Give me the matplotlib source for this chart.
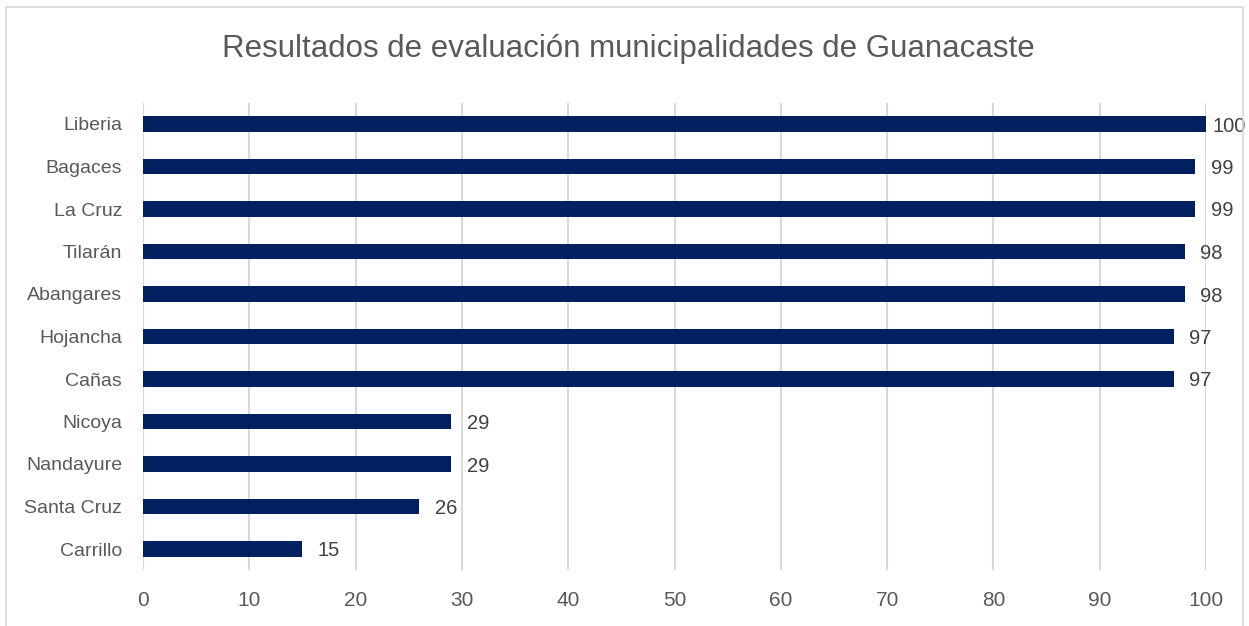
import matplotlib
matplotlib.use("Agg")
import matplotlib.pyplot as plt
from matplotlib import font_manager
from matplotlib.patches import Rectangle

names = ["Liberia", "Bagaces", "La Cruz", "Tilarán", "Abangares", "Hojancha",
         "Cañas", "Nicoya", "Nandayure", "Santa Cruz", "Carrillo"]
values = [100, 99, 99, 98, 98, 97, 97, 29, 29, 26, 15]
xticks = [0, 10, 20, 30, 40, 50, 60, 70, 80, 90, 100]
title = "Resultados de evaluación municipalidades de Guanacaste"

avail = {f.name for f in font_manager.fontManager.ttflist}
fam = ["Liberation Sans Narrow"] if "Liberation Sans Narrow" in avail else ["Liberation Sans"]
plt.rcParams["font.family"] = fam + ["DejaVu Sans"]

W, H = 1249, 626
fig = plt.figure(figsize=(W / 100, H / 100), dpi=100)
fig.patches.append(Rectangle((6 / W, -0.01), (1243 - 6) / W, 1 - 7 / H + 0.01,
                             transform=fig.transFigure, fill=False,
                             edgecolor="#d9d9d9", linewidth=1.2))

left, right = 143 / W, 1206 / W
top, bottom = 1 - 102.75 / H, 1 - 570.25 / H
ax = fig.add_axes([left, bottom, right - left, top - bottom])

ypos = list(range(len(names)))
ax.barh(ypos, values, height=0.36, color="#002060", zorder=3)
ax.set_ylim(len(names) - 0.5, -0.5)
ax.set_xlim(0, 100)
ax.set_yticks(ypos)
ax.set_yticklabels(names)
ax.set_xticks(xticks)
ax.tick_params(axis="both", length=0, labelcolor="#595959")
ax.tick_params(axis="y", pad=15, labelsize=14)
ax.tick_params(axis="x", pad=15, labelsize=15)
ax.grid(axis="x", color="#d9d9d9", linewidth=1.5, zorder=0)
for s in ax.spines.values():
    s.set_visible(False)

labels = []
for y, v in zip(ypos, values):
    t = ax.annotate(str(v), (v, y), xytext=(11, 0), textcoords="offset points",
                    va="center_baseline", ha="left", fontsize=14.5, color="#404040",
                    annotation_clip=False)
    labels.append(t)

fig.text(628 / W, 1 - 49 / H, title, ha="center", va="center",
         fontsize=22.5, color="#595959")

# keep data labels inside the chart area (as the spreadsheet does)
fig.canvas.draw()
r = fig.canvas.get_renderer()
limit = 1246
for t in labels:
    bb = t.get_window_extent(r)
    if bb.x1 > limit:
        shift_pt = (bb.x1 - limit) * 72 / fig.dpi
        x0, y0 = t.xyann
        t.xyann = (x0 - shift_pt, y0)

fig.savefig("out.png", dpi=100)
